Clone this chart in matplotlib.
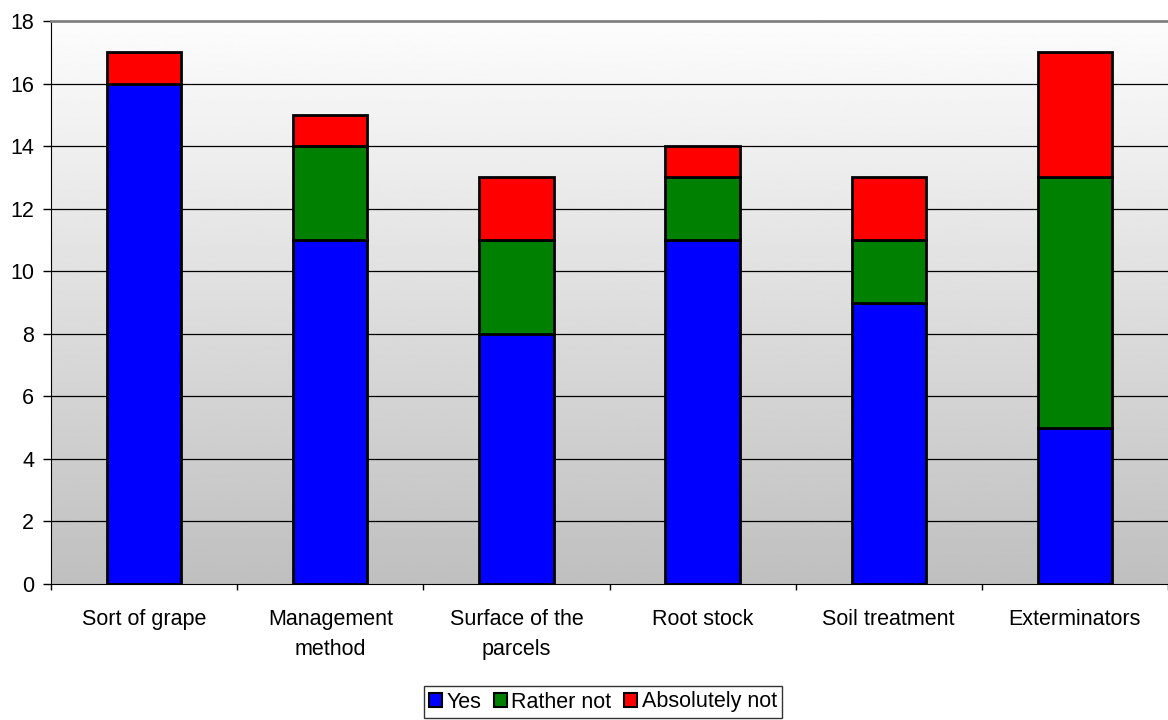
import numpy as np
import matplotlib.pyplot as plt
from matplotlib.patches import Patch

plt.rcParams['font.family'] = ['Liberation Sans', 'DejaVu Sans']

categories = ['Sort of grape', 'Management\nmethod', 'Surface of the\nparcels',
              'Root stock', 'Soil treatment', 'Exterminators']
yes = [16, 11, 8, 11, 9, 5]
rather_not = [0, 3, 3, 2, 2, 8]
absolutely_not = [1, 1, 2, 1, 2, 4]

series = [('Yes', yes, '#0000ff'),
          ('Rather not', rather_not, '#008000'),
          ('Absolutely not', absolutely_not, '#ff0000')]

FS = 15.5
W, H = 1168, 720
fig = plt.figure(figsize=(W / 100, H / 100), dpi=100)
ax = fig.add_axes([51 / W, (H - 584) / H, (1168 - 51) / W, (584 - 21) / H])

x = np.arange(len(categories))
xmin, xmax = -0.5, len(categories) - 0.5

# grey gradient behind the plot area, darker at the bottom
grad = np.linspace(0.75, 0.99, 256).reshape(-1, 1)
ax.imshow(grad, extent=[xmin, xmax, 0, 18], aspect='auto', origin='lower',
          cmap='gray', vmin=0, vmax=1, zorder=0)
ax.set_xlim(xmin, xmax)
ax.set_ylim(0, 18)

for yv in np.arange(2, 18, 2):
    ax.axhline(yv, color='#000000', lw=0.9, zorder=1)

bottom = np.zeros(len(categories))
for name, vals, color in series:
    vals = np.array(vals, dtype=float)
    mask = vals > 0
    ax.bar(x[mask], vals[mask], width=0.4, bottom=bottom[mask], color=color,
           edgecolor='black', linewidth=2, zorder=3)
    bottom += vals

ax.set_yticks(np.arange(0, 19, 2))
ax.tick_params(axis='y', direction='out', length=6, width=1, labelsize=FS, pad=6)

ax.set_xticks(np.arange(xmin, xmax + 0.01, 1.0))
ax.set_xticklabels([])
ax.tick_params(axis='x', which='major', direction='out', length=4.5, width=1)
ax.set_xticks(x, minor=True)
ax.set_xticklabels(categories, minor=True, fontsize=FS, linespacing=1.55)
ax.tick_params(axis='x', which='minor', length=0, pad=18)

ax.spines['left'].set_color('black')
ax.spines['bottom'].set_color('black')
ax.spines['top'].set_color('#808080')
ax.spines['top'].set_linewidth(2)
ax.spines['right'].set_visible(False)

handles = [Patch(facecolor=c, edgecolor='black', linewidth=1.5, label=n)
           for n, _, c in series]
leg = fig.legend(handles=handles, loc='center', bbox_to_anchor=(603 / W, 1 - 702 / H),
                 ncol=3, fontsize=FS, frameon=True, fancybox=False,
                 handlelength=0.6, handleheight=0.6, handletextpad=0.2,
                 columnspacing=0.6, borderpad=0.25, borderaxespad=0)
leg.get_frame().set_edgecolor('black')
leg.get_frame().set_linewidth(1)

fig.savefig('out.png', dpi=100)
